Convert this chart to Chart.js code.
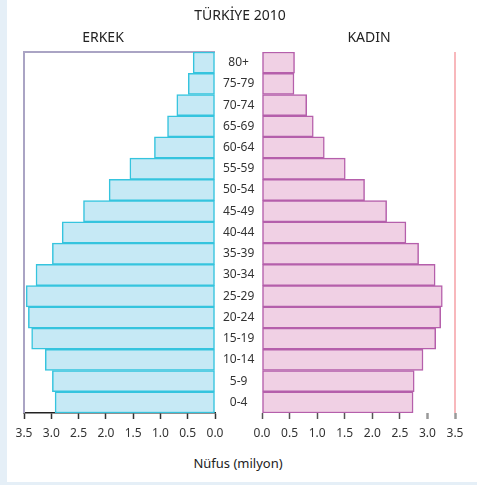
<!DOCTYPE html>
<html><head><meta charset="utf-8">
<script src="https://cdn.jsdelivr.net/npm/chart.js@4"></script>
<style>
body{margin:0;background:#e5eff7;width:477px;height:485px;overflow:hidden;font-family:"Noto Sans",sans-serif}
#card{position:absolute;left:7px;top:0;width:470px;height:482px;background:#fff}
.t{position:absolute;color:#222;white-space:nowrap;transform:translate(-50%,-50%);line-height:1}
#cl{position:absolute;left:0;top:0}
#cr{position:absolute;left:240px;top:0}
</style></head><body>
<div id="card"></div>
<canvas id="cl" width="262" height="450"></canvas>
<canvas id="cr" width="237" height="450"></canvas>
<div class="t" style="left:240px;top:15px;font-size:14px">TÜRKİYE 2010</div>
<div class="t" style="left:103px;top:37px;font-size:14px">ERKEK</div>
<div class="t" style="left:369px;top:37px;font-size:14px">KADIN</div>
<div class="t" style="left:238px;top:463px;font-size:13px">Nüfus (milyon)</div>
<script>
const ageGroups = ['80+','75-79','70-74','65-69','60-64','55-59','50-54','45-49','40-44','35-39','30-34','25-29','20-24','15-19','10-14','5-9','0-4'];
const maleValues = [0.40,0.49,0.70,0.87,1.11,1.56,1.94,2.41,2.80,2.98,3.28,3.46,3.42,3.36,3.11,2.98,2.93];
const femaleValues = [0.59,0.58,0.81,0.93,1.13,1.51,1.86,2.26,2.61,2.84,3.14,3.27,3.24,3.15,2.92,2.76,2.74];
const xTickLabels = ['0.0','0.5','1.0','1.5','2.0','2.5','3.0','3.5'];

const FONT = {family:'"Noto Sans", sans-serif', size:12};
const tickLabel = v => xTickLabels[Math.round(v*2)];

const frameLeft = {
  id:'frameLeft',
  beforeDatasetsDraw(chart){
    const {ctx, chartArea:a} = chart;
    ctx.save();
    ctx.strokeStyle = '#aaa4c4';
    ctx.lineWidth = 2;
    ctx.beginPath();
    ctx.moveTo(a.left, a.bottom);
    ctx.lineTo(a.left, a.top);
    ctx.lineTo(a.right, a.top);
    ctx.stroke();
    ctx.restore();
  }
};
const frameRight = {
  id:'frameRight',
  beforeDatasetsDraw(chart){
    const {ctx, chartArea:a} = chart;
    ctx.save();
    ctx.strokeStyle = '#f8b8bc';
    ctx.lineWidth = 2;
    ctx.beginPath();
    ctx.moveTo(a.right, a.top);
    ctx.lineTo(a.right, a.bottom);
    ctx.stroke();
    ctx.restore();
  }
};

new Chart(document.getElementById('cl'), {
  type:'bar',
  data:{labels:ageGroups, datasets:[{
    data:maleValues,
    backgroundColor:'#c6e9f5',
    borderColor:'#35c4de',
    borderWidth:1.5,
    borderSkipped:false,
    barPercentage:1, categoryPercentage:1
  }]},
  options:{
    indexAxis:'y', responsive:false, animation:false,
    layout:{padding:{left:24, top:52, right:0, bottom:0}},
    plugins:{legend:{display:false}, tooltip:{enabled:false}},
    scales:{
      x:{reverse:true, min:0, max:3.5, position:'bottom',
        ticks:{stepSize:0.5, autoSkip:false, maxRotation:0, padding:7, color:'#333', font:FONT,
          callback:v=>tickLabel(v)},
        grid:{drawOnChartArea:false, tickLength:6, color:'#333', tickWidth:1.5},
        border:{color:'#222', width:1.5},
        afterFit:s=>{s.height=37;}
      },
      y:{position:'right',
        ticks:{crossAlign:'center', color:'#333', font:FONT, padding:0},
        grid:{display:false}, border:{display:false},
        afterFit:s=>{s.width=47;}
      }
    }
  },
  plugins:[frameLeft]
});

new Chart(document.getElementById('cr'), {
  type:'bar',
  data:{labels:ageGroups, datasets:[{
    data:femaleValues,
    backgroundColor:'#f0d0e4',
    borderColor:'#b55fab',
    borderWidth:1.5,
    borderSkipped:false,
    barPercentage:1, categoryPercentage:1
  }]},
  options:{
    indexAxis:'y', responsive:false, animation:false,
    layout:{padding:{left:22, top:52, right:22, bottom:0}},
    plugins:{legend:{display:false}, tooltip:{enabled:false}},
    scales:{
      x:{min:0, max:3.5, position:'bottom',
        ticks:{stepSize:0.5, autoSkip:false, maxRotation:0, padding:7, color:'#333', font:FONT,
          callback:v=>tickLabel(v)},
        grid:{drawOnChartArea:false, tickLength:6,
          color:(c)=> c.index>=6 ? '#999' : '#555',
          tickWidth:(c)=> c.index>=6 ? 2.5 : 1.5},
        border:{display:false},
        afterFit:s=>{s.height=37;}
      },
      y:{display:false}
    }
  },
  plugins:[frameRight]
});
</script>
</body></html>
